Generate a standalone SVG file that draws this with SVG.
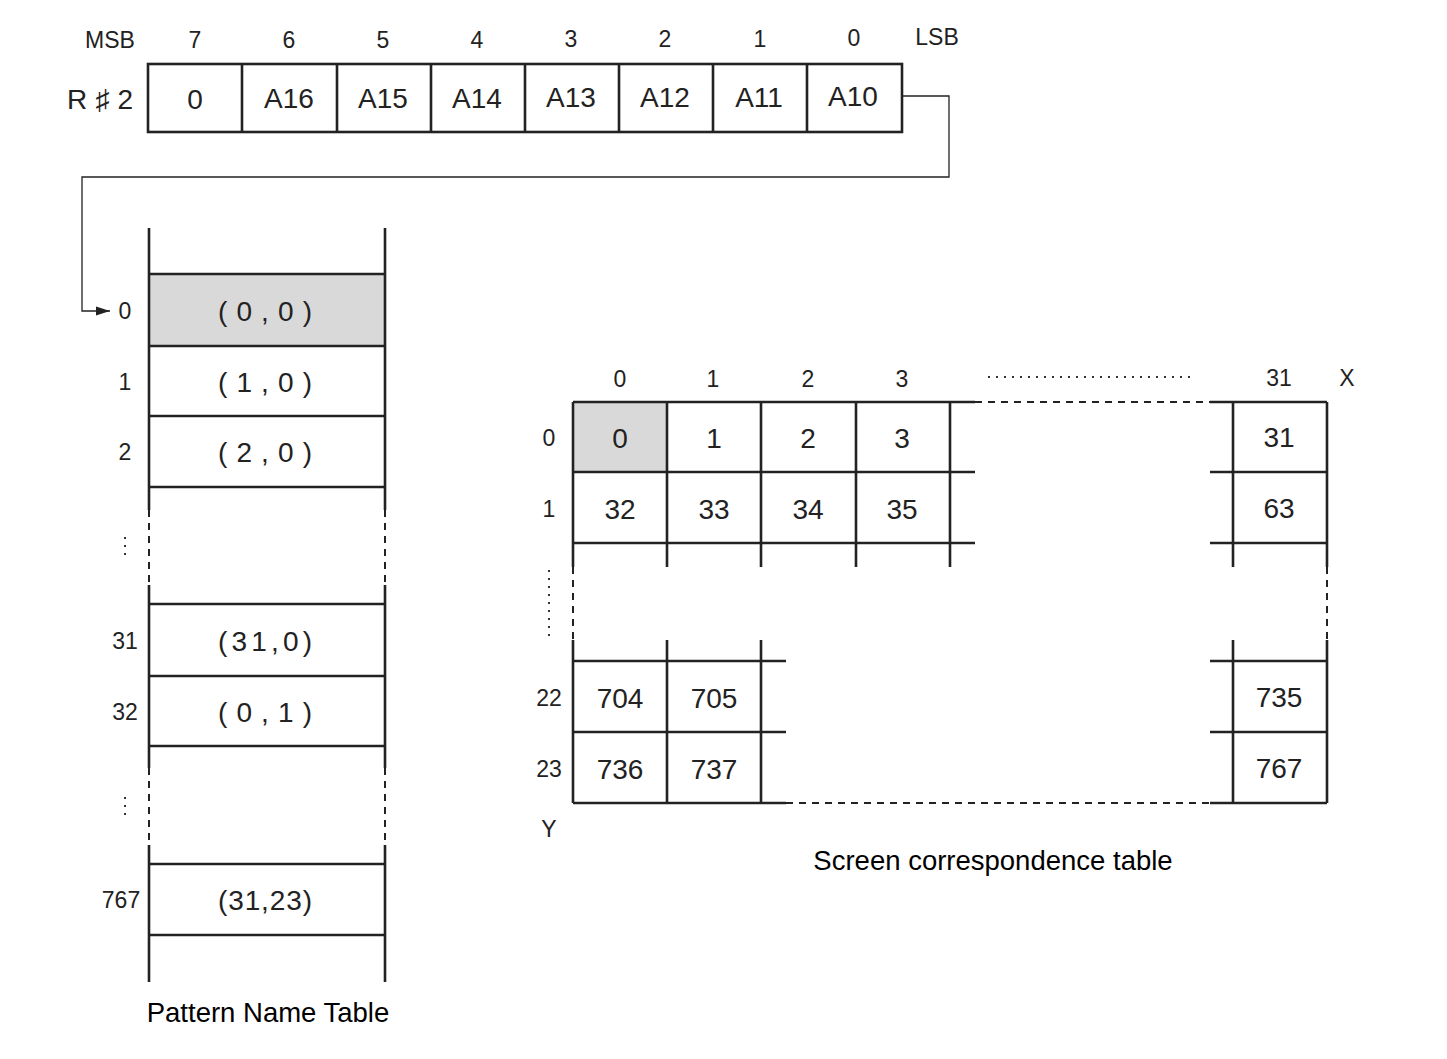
<svg xmlns="http://www.w3.org/2000/svg" width="1447" height="1059" viewBox="0 0 1447 1059">
<style>
text{font-family:"Liberation Sans",Arial,sans-serif;fill:#222;text-anchor:middle;dominant-baseline:central}
.lbl{font-size:23px}
.cell{font-size:28px}
.cap{font-size:27.5px;fill:#000}
.thick{stroke:#222;stroke-width:2.6;fill:none}
.dash{stroke:#222;stroke-width:2;fill:none;stroke-dasharray:7 6}
.dot{stroke:#333;stroke-width:2;fill:none;stroke-dasharray:2 6}
.thin{stroke:#222;stroke-width:1.3;fill:none}
.shade{fill:#d9d9d9}
</style>
<defs>
<marker id="arr" viewBox="0 0 14 10" refX="14" refY="5" markerWidth="14" markerHeight="10" markerUnits="userSpaceOnUse" orient="auto"><path d="M0,0.5 L14,5 L0,9.5 z" fill="#222"/></marker>
</defs>
<rect width="1447" height="1059" fill="#fff"/>

<g id="register">
<text class="lbl" x="110" y="40">MSB</text>
<text class="lbl" x="195" y="40">7</text>
<text class="lbl" x="289" y="40">6</text>
<text class="lbl" x="383" y="40">5</text>
<text class="lbl" x="477" y="40">4</text>
<text class="lbl" x="571" y="39">3</text>
<text class="lbl" x="665" y="39">2</text>
<text class="lbl" x="760" y="39">1</text>
<text class="lbl" x="854" y="38">0</text>
<text class="lbl" x="937" y="37">LSB</text>
<text class="cell" x="100" y="99" textLength="66" lengthAdjust="spacing">R♯2</text>
<rect class="thick" x="148" y="64" width="754" height="68"/>
<path class="thick" d="M242,64V132M337,64V132M431,64V132M525,64V132M619,64V132M713,64V132M807,64V132"/>
<text class="cell" x="195" y="99">0</text>
<text class="cell" x="289" y="98">A16</text>
<text class="cell" x="383" y="98">A15</text>
<text class="cell" x="477" y="98">A14</text>
<text class="cell" x="571" y="97">A13</text>
<text class="cell" x="665" y="97">A12</text>
<text class="cell" x="759" y="97">A11</text>
<text class="cell" x="853" y="96">A10</text>
</g>

<g id="connectors">
<path class="thin" d="M902,96H949V177H82V311H110" marker-end="url(#arr)"/>
</g>

<g id="pattern-name-table">
<rect class="shade" x="149" y="274" width="236" height="72"/>
<path class="thick" d="M149,228V510M385,228V510M149,585V768M385,585V768M149,845V982M385,845V982"/>
<path class="dash" d="M149,510V585M385,510V585M149,768V845M385,768V845"/>
<path class="thick" d="M149,274H385M149,346H385M149,416H385M149,487H385M149,604H385M149,676H385M149,746H385M149,864H385M149,935H385"/>
<text class="lbl" x="125" y="311">0</text>
<text class="lbl" x="125" y="382">1</text>
<text class="lbl" x="125" y="452">2</text>
<path class="dot" d="M125,537V556M125,797V816"/>
<text class="lbl" x="125" y="641">31</text>
<text class="lbl" x="125" y="712">32</text>
<text class="lbl" x="121" y="900">767</text>
<text class="cell" x="265" y="311" textLength="94" lengthAdjust="spacing">(0,0)</text>
<text class="cell" x="265" y="382" textLength="94" lengthAdjust="spacing">(1,0)</text>
<text class="cell" x="265" y="452" textLength="94" lengthAdjust="spacing">(2,0)</text>
<text class="cell" x="265" y="641" textLength="94" lengthAdjust="spacing">(31,0)</text>
<text class="cell" x="265" y="712" textLength="94" lengthAdjust="spacing">(0,1)</text>
<text class="cell" x="265" y="900" textLength="94" lengthAdjust="spacing">(31,23)</text>
<text class="cap" x="268" y="1012">Pattern Name Table</text>
</g>

<g id="screen-table">
<rect class="shade" x="573" y="402" width="94" height="70"/>
<path class="thick" d="M573,402H975M1210,402H1327M573,472H975M1210,472H1327M573,543H975M1210,543H1327M573,661H786M1210,661H1327M573,732H786M1210,732H1327M573,803H786M1210,803H1327"/>
<path class="thick" d="M573,402V567M667,402V567M761,402V567M856,402V567M950,402V567M1233,402V567M1327,402V567M573,640V803M667,640V803M761,640V803M1233,640V803M1327,640V803"/>
<path class="dash" d="M975,402H1210M786,803H1210M573,567V640M1327,567V640"/>
<path class="dot" d="M988,377H1195M549,570V636"/>
<text class="lbl" x="620" y="379">0</text>
<text class="lbl" x="713" y="379">1</text>
<text class="lbl" x="808" y="379">2</text>
<text class="lbl" x="902" y="379">3</text>
<text class="lbl" x="1279" y="378">31</text>
<text class="lbl" x="1347" y="378">X</text>
<text class="lbl" x="549" y="438">0</text>
<text class="lbl" x="549" y="509">1</text>
<text class="lbl" x="549" y="698">22</text>
<text class="lbl" x="549" y="769">23</text>
<text class="lbl" x="549" y="829">Y</text>
<text class="cell" x="620" y="438">0</text>
<text class="cell" x="714" y="438">1</text>
<text class="cell" x="808" y="438">2</text>
<text class="cell" x="902" y="438">3</text>
<text class="cell" x="1279" y="437">31</text>
<text class="cell" x="620" y="509">32</text>
<text class="cell" x="714" y="509">33</text>
<text class="cell" x="808" y="509">34</text>
<text class="cell" x="902" y="509">35</text>
<text class="cell" x="1279" y="508">63</text>
<text class="cell" x="620" y="698">704</text>
<text class="cell" x="714" y="698">705</text>
<text class="cell" x="1279" y="697">735</text>
<text class="cell" x="620" y="769">736</text>
<text class="cell" x="714" y="769">737</text>
<text class="cell" x="1279" y="768">767</text>
<text class="cap" x="993" y="860">Screen correspondence table</text>
</g>
</svg>
